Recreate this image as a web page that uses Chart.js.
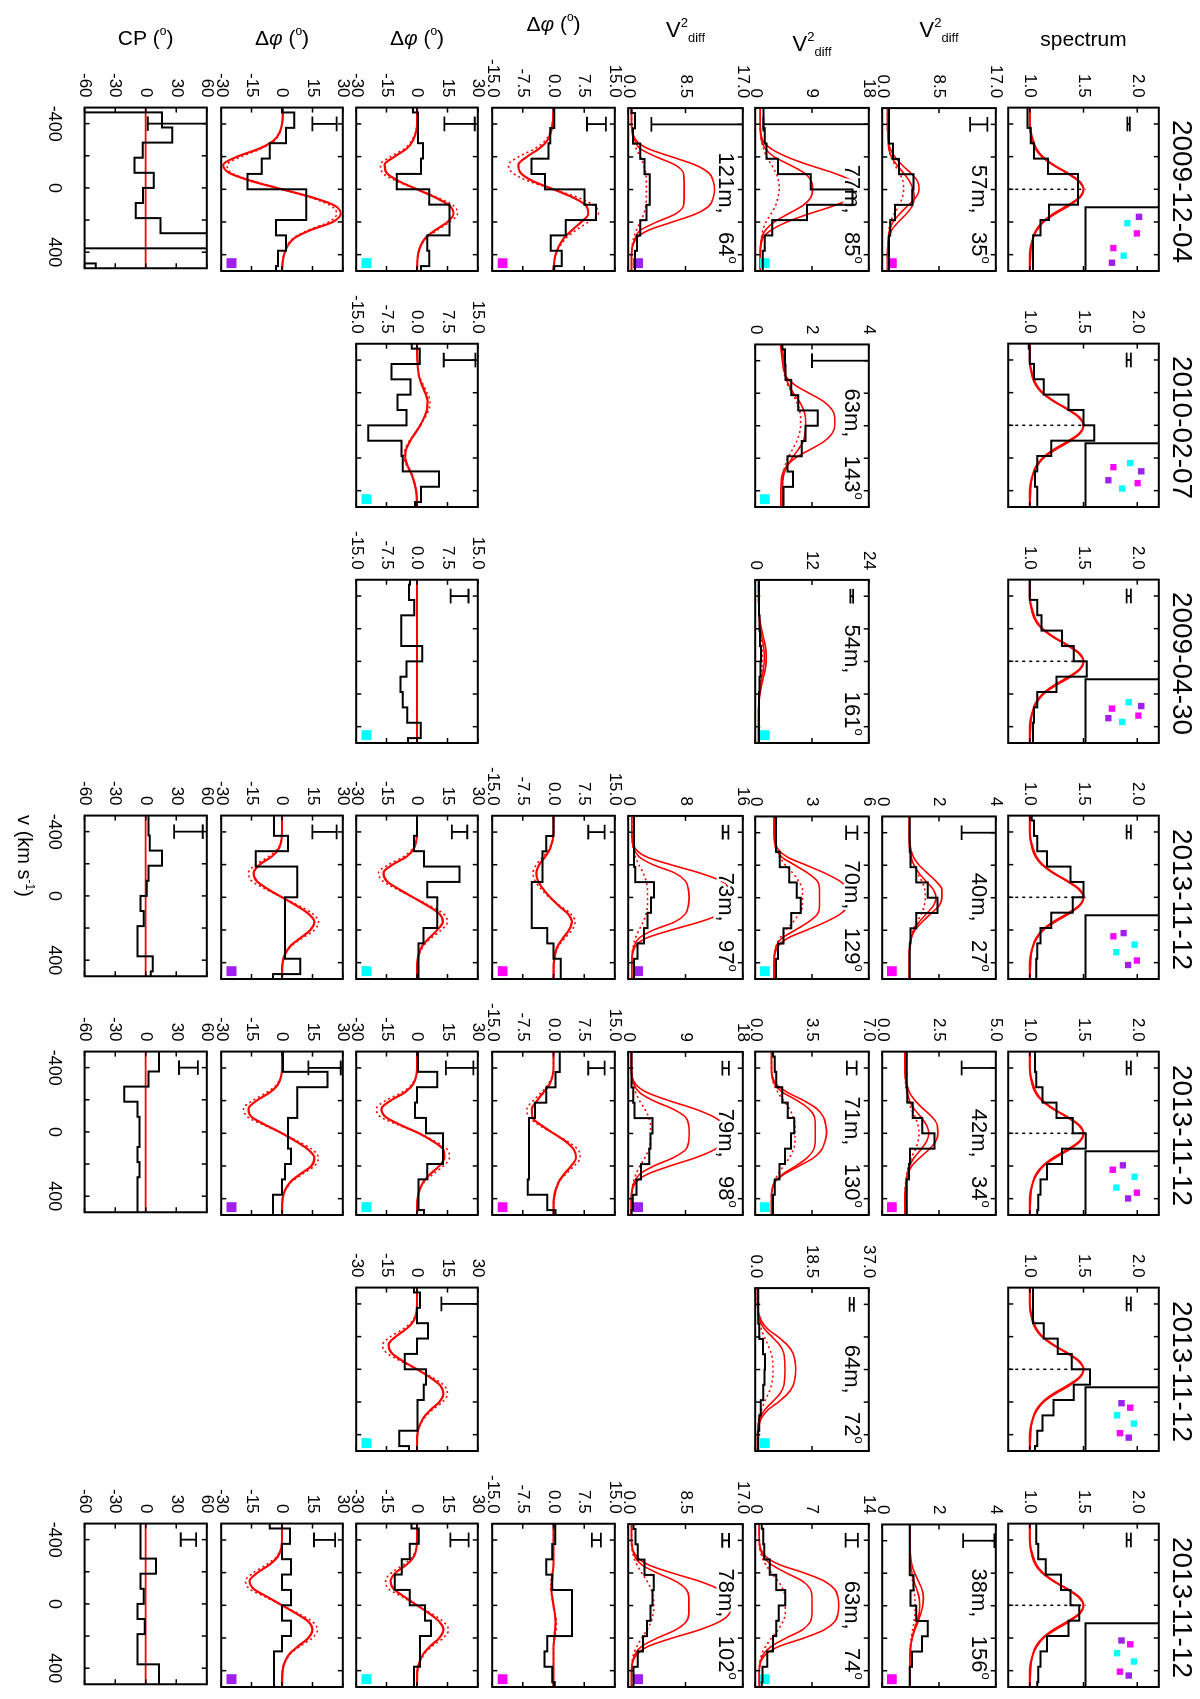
<!DOCTYPE html>
<html>
<head>
<meta charset="utf-8">
<script src="https://cdn.jsdelivr.net/npm/chart.js@4.4.1/dist/chart.umd.min.js"></script>
<style>
  html, body { margin: 0; padding: 0; background: #fff; }
  body { width: 1200px; height: 1699px; overflow: hidden; position: relative;
         font-family: 'Liberation Sans', Arial, Helvetica, sans-serif; }
  /* the figure is laid out lying down and turned a quarter turn clockwise */
  #fig { position: absolute; left: 0; top: 0; width: 1699px; height: 1200px;
         transform-origin: 0 0; transform: translateX(1200px) rotate(90deg); }
  #fig canvas { position: absolute; }
  .date { position: absolute; top: 4px; width: 163px; text-align: center;
          font-size: 28px; line-height: 28px; color: #000; white-space: nowrap; }
  .vtitle { position: absolute; top: 1165px; left: 756px; width: 200px; text-align: center;
            font-size: 20px; line-height: 20px; color: #000; }
  .vtitle sup { font-size: 12px; line-height: 0; vertical-align: 8px; }
</style>
</head>
<body>
<div id="fig"></div>
<script>
// ---- data ----
const dates = ['2009-12-04', '2010-02-07', '2009-04-30', '2013-11-12', '2013-11-12', '2013-11-12', '2013-11-12'];

// velocity channels (histogram centres) and model sampling velocities, km/s
const velBins = [-517, -423, -329, -235, -141, -47, 47, 141, 235, 329, 423, 517];
const velFit = [-500, -400, -300, -250, -200, -150, -100, -50, 0, 50, 100, 150, 200, 250, 300, 400, 500];
const velTicks = [-400, -200, 0, 200, 400];
const velTickLabels = ['-400', '', '0', '', '400'];
const specTicks = [1.0, 1.5, 2.0];
const cpTicks = [-60, -30, 0, 30, 60];

// spectrum row
const specHist = [
  [0.98, 0.98, 1.01, 1.04, 1.17, 1.45, 1.45, 1.18, 1.1, 1.03, 1.03, 1.03],
  [0.99, 1.0, 1.04, 1.13, 1.36, 1.5, 1.6, 1.2, 1.07, 1.05, 1.07, 1.07],
  [1.0, 1.0, 1.07, 1.11, 1.3, 1.41, 1.53, 1.25, 1.07, 1.04, 1.03, 1.03],
  [1.02, 1.04, 1.07, 1.16, 1.38, 1.5, 1.4, 1.2, 1.1, 1.07, 1.06, 1.06],
  [1.05, 1.05, 1.06, 1.12, 1.25, 1.4, 1.52, 1.3, 1.16, 1.1, 1.08, 1.07],
  [1.03, 1.03, 1.03, 1.13, 1.26, 1.39, 1.56, 1.41, 1.22, 1.12, 1.07, 1.05],
  [1.06, 1.06, 1.08, 1.15, 1.29, 1.38, 1.46, 1.36, 1.16, 1.1, 1.08, 1.07]
];
const specModel = [1.0, 1.0, 1.03, 1.06, 1.12, 1.22, 1.35, 1.46, 1.5, 1.46, 1.35, 1.22, 1.12, 1.06, 1.03, 1.0, 1.0];
const specModel2 = [1.0, 1.0, 1.02, 1.05, 1.11, 1.21, 1.34, 1.45, 1.5, 1.47, 1.37, 1.24, 1.13, 1.07, 1.03, 1.01, 1.0];
const specErr = [0.012, 0.02, 0.02, 0.02, 0.02, 0.02, 0.02];

// telescope layout inset: [x, y] in the inset box (0..1), colour code
const insetDots = [
  [[0.15, 0.73, 'p'], [0.41, 0.70, 'm'], [0.25, 0.57, 'c'], [0.76, 0.52, 'c'], [0.64, 0.38, 'm'], [0.87, 0.36, 'p']],
  [[0.375, 0.38, 'm'], [0.58, 0.31, 'p'], [0.31, 0.61, 'c'], [0.71, 0.50, 'c'], [0.44, 0.76, 'p'], [0.625, 0.71, 'm']],
  [[0.46, 0.36, 'm'], [0.61, 0.31, 'p'], [0.36, 0.59, 'c'], [0.67, 0.50, 'c'], [0.42, 0.76, 'p'], [0.57, 0.72, 'm']],
  [[0.33, 0.38, 'm'], [0.28, 0.52, 'p'], [0.58, 0.42, 'c'], [0.46, 0.67, 'c'], [0.78, 0.58, 'p'], [0.71, 0.70, 'm']],
  [[0.29, 0.37, 'm'], [0.22, 0.51, 'p'], [0.57, 0.42, 'c'], [0.40, 0.67, 'c'], [0.74, 0.58, 'p'], [0.65, 0.70, 'm']],
  [[0.25, 0.49, 'p'], [0.32, 0.61, 'm'], [0.44, 0.43, 'c'], [0.57, 0.66, 'c'], [0.72, 0.47, 'm'], [0.79, 0.59, 'p']],
  [[0.27, 0.49, 'p'], [0.33, 0.61, 'm'], [0.47, 0.43, 'c'], [0.60, 0.66, 'c'], [0.76, 0.47, 'm'], [0.82, 0.59, 'p']]
];

// differential visibility rows (three baselines per date, null = not observed)
const v2Max = [[17, 18, 17], [null, 4, null], [null, 24, null], [4, 6, 16], [5, 7, 18], [null, 37, null], [4, 14, 17]];
const v2Len = [[57, 77, 121], [null, 63, null], [null, 54, null], [40, 70, 73], [42, 71, 79], [null, 64, null], [38, 63, 78]];
const v2PA = [[35, 85, 64], [null, 143, null], [null, 161, null], [27, 129, 97], [34, 130, 98], [null, 72, null], [156, 74, 102]];
const v2Err = [[1.3, 14, 11], [null, 1.4, null], [null, 0.3, null], [0.6, 0.3, 0.4], [0.75, 0.3, 0.5], [null, 0.7, null], [0.55, 0.75, 0.5]];
const v2Hist = [
  [[1.0, 1.0, 1.0, 1.6, 2.5, 4.7, 4.5, 1.9, 1.2, 1.0, 1.0, 1.0],
   [1.3, 1.3, 1.5, 1.8, 3.6, 8.8, 15.4, 8.2, 2.7, 1.5, 1.2, 1.2],
   [0.5, 1.0, 0.7, 1.8, 2.4, 3.2, 3.2, 2.7, 1.8, 1.3, 1.0, 1.0]],
  [null, [0.95, 1.05, 1.07, 1.27, 1.52, 2.2, 1.77, 1.64, 1.14, 1.33, 1.0, 1.0], null],
  [null, [0.8, 0.8, 0.8, 0.9, 1.0, 1.2, 1.1, 0.9, 0.8, 0.8, 0.8, 0.8], null],
  [[0.97, 0.97, 0.97, 1.0, 1.2, 1.6, 1.95, 1.2, 1.0, 0.97, 0.97, 0.97],
   [1.1, 1.1, 1.1, 1.3, 1.8, 2.2, 2.4, 1.9, 1.5, 1.2, 1.1, 1.1],
   [0.8, 0.8, 0.8, 0.8, 1.0, 3.6, 3.2, 2.7, 2.2, 1.3, 0.8, 0.8]],
  [[1.08, 1.08, 1.08, 1.1, 1.35, 1.76, 2.3, 1.22, 1.18, 1.08, 1.08, 1.08],
   [1.1, 1.2, 1.3, 1.66, 2.0, 2.4, 2.2, 1.84, 1.5, 1.2, 1.1, 1.1],
   [0.5, 0.5, 0.5, 0.8, 1.0, 3.8, 3.5, 3.3, 2.0, 1.3, 0.7, 0.5]],
  [null, [1.0, 1.0, 1.0, 1.3, 2.5, 3.2, 3.0, 2.6, 1.8, 1.3, 1.0, 1.0], null],
  [[0.97, 0.97, 0.97, 0.97, 1.1, 1.0, 1.2, 1.6, 1.4, 1.05, 0.97, 0.97],
   [0.8, 1.0, 1.1, 1.8, 2.6, 3.7, 2.9, 2.6, 2.2, 1.5, 0.9, 0.8],
   [0.8, 1.1, 1.4, 2.4, 3.8, 3.6, 3.3, 2.8, 2.2, 1.4, 0.8, 0.8]]
];
const v2FitA = [
  [[0.8, 0.8, 0.9, 1.2, 1.9, 3.0, 4.3, 5.3, 5.5, 5.0, 3.8, 2.6, 1.6, 1.1, 0.9, 0.8, 0.8],
   [0.8, 0.8, 1.0, 1.6, 3.0, 5.5, 7.8, 8.9, 9.1, 8.8, 7.5, 5.2, 3.0, 1.6, 1.0, 0.8, 0.8],
   [0.5, 0.5, 1.0, 1.8, 4.2, 7.0, 8.2, 8.3, 8.3, 8.3, 8.2, 7.0, 4.2, 1.8, 1.0, 0.5, 0.5]],
  [null, [0.95, 1.0, 1.08, 1.18, 1.35, 1.55, 1.7, 1.77, 1.78, 1.75, 1.68, 1.5, 1.3, 1.12, 1.0, 0.95, 0.95], null],
  [null, [0.7, 0.7, 0.8, 0.9, 1.1, 1.4, 1.7, 1.9, 1.9, 1.7, 1.4, 1.1, 0.9, 0.8, 0.7, 0.7, 0.7], null],
  [[0.95, 0.95, 0.97, 1.02, 1.12, 1.3, 1.55, 1.8, 1.9, 1.8, 1.55, 1.3, 1.12, 1.02, 0.97, 0.95, 0.95],
   [1.0, 1.0, 1.1, 1.4, 2.1, 2.8, 3.3, 3.4, 3.4, 3.4, 3.3, 2.8, 2.1, 1.4, 1.1, 1.0, 1.0],
   [0.5, 0.5, 0.8, 1.5, 3.5, 6.5, 8.0, 8.4, 8.5, 8.4, 8.0, 6.5, 3.5, 1.5, 0.8, 0.5, 0.5]],
  [[1.0, 1.0, 1.05, 1.1, 1.2, 1.4, 1.7, 1.95, 2.05, 1.95, 1.7, 1.4, 1.2, 1.1, 1.05, 1.0, 1.0],
   [1.0, 1.0, 1.2, 1.7, 2.6, 3.3, 3.65, 3.7, 3.7, 3.7, 3.6, 3.2, 2.5, 1.7, 1.2, 1.0, 1.0],
   [0.5, 0.5, 0.9, 1.8, 4, 7, 9, 9.5, 9.6, 9.5, 9, 7, 4, 1.8, 0.9, 0.5, 0.5]],
  [null, [0.8, 0.8, 1.5, 3, 5.5, 8, 9.3, 9.6, 9.7, 9.6, 9.3, 8, 5.5, 3, 1.5, 0.8, 0.8], null],
  [[0.97, 0.97, 0.98, 1.0, 1.05, 1.12, 1.22, 1.3, 1.32, 1.3, 1.22, 1.12, 1.05, 1.0, 0.98, 0.97, 0.97],
   [0.5, 0.5, 1.0, 2, 3.8, 5.8, 6.8, 7, 7, 7, 6.8, 5.8, 3.8, 2, 1, 0.5, 0.5],
   [0.5, 0.5, 1, 2, 4.3, 7, 8.6, 9, 9, 9, 8.6, 7, 4.3, 2, 1, 0.5, 0.5]]
];
const v2FitB = [
  [[0.8, 0.8, 0.9, 1.0, 1.4, 2.2, 3.2, 4.1, 4.6, 4.8, 4.5, 3.6, 2.4, 1.4, 1.0, 0.8, 0.8],
   [0.8, 0.8, 1.2, 2.5, 5, 8.5, 12.5, 15.5, 16.5, 15.5, 12.5, 8.5, 5, 2.5, 1.2, 0.8, 0.8],
   [0.5, 0.5, 1.2, 3, 6.5, 10, 12, 12.6, 12.8, 12.6, 12, 10, 6.5, 3, 1.2, 0.5, 0.5]],
  [null, [0.9, 0.95, 1.1, 1.4, 1.9, 2.4, 2.7, 2.8, 2.8, 2.7, 2.4, 1.9, 1.4, 1.1, 0.95, 0.9, 0.9], null],
  [null, [0.7, 0.7, 0.8, 1.0, 1.3, 1.7, 2.1, 2.3, 2.3, 2.1, 1.7, 1.3, 1.0, 0.8, 0.7, 0.7, 0.7], null],
  [[0.95, 0.95, 1.0, 1.1, 1.3, 1.6, 1.9, 2.1, 2.1, 2.0, 1.7, 1.4, 1.15, 1.02, 0.97, 0.95, 0.95],
   [1.0, 1.0, 1.2, 1.7, 2.7, 3.7, 4.5, 4.9, 5.0, 4.9, 4.5, 3.7, 2.7, 1.7, 1.2, 1.0, 1.0],
   [0.5, 0.5, 1, 2.5, 6, 10, 13, 14.2, 14.5, 14.2, 13, 10, 6, 2.5, 1, 0.5, 0.5]],
  [[1.0, 1.0, 1.08, 1.2, 1.45, 1.8, 2.2, 2.42, 2.45, 2.35, 2.05, 1.65, 1.3, 1.12, 1.05, 1.0, 1.0],
   [1.0, 1.0, 1.3, 2.0, 3.0, 3.8, 4.2, 4.35, 4.4, 4.3, 4.1, 3.6, 2.7, 1.8, 1.2, 1.0, 1.0],
   [0.5, 0.5, 1.2, 3, 6.5, 10.5, 13.5, 15, 15.2, 15, 13.5, 10.5, 6.5, 3, 1.2, 0.5, 0.5]],
  [null, [0.8, 0.8, 2, 4, 7.5, 10.5, 12.3, 13, 13.2, 13, 12.3, 10.5, 7.5, 4, 2, 0.8, 0.8], null],
  [[0.97, 0.97, 1.0, 1.05, 1.15, 1.28, 1.4, 1.45, 1.43, 1.36, 1.26, 1.15, 1.06, 1.0, 0.98, 0.97, 0.97],
   [0.5, 0.5, 1.3, 3, 6, 8.5, 9.8, 10.2, 10.3, 10.2, 9.8, 8.5, 6, 3, 1.3, 0.5, 0.5],
   [0.5, 0.5, 1.3, 3, 6.5, 10.5, 13.5, 15, 15.2, 15, 13.5, 10.5, 6.5, 3, 1.3, 0.5, 0.5]]
];
const v2FitDot = [
  [[0.8, 0.8, 0.9, 1.0, 1.3, 1.9, 2.6, 3.1, 3.2, 3.0, 2.5, 1.8, 1.2, 1.0, 0.9, 0.8, 0.8],
   [0.8, 0.8, 1, 1.3, 1.8, 2.6, 3.3, 3.7, 3.8, 3.6, 3.2, 2.5, 1.7, 1.2, 1, 0.8, 0.8],
   [0.5, 0.5, 0.8, 1.2, 1.8, 2.3, 2.6, 2.7, 2.7, 2.7, 2.6, 2.3, 1.8, 1.2, 0.8, 0.5, 0.5]],
  [null, [0.95, 1.0, 1.05, 1.15, 1.3, 1.45, 1.55, 1.6, 1.6, 1.55, 1.45, 1.3, 1.15, 1.05, 1.0, 0.95, 0.95], null],
  [null, [0.7, 0.7, 0.8, 0.9, 1.0, 1.2, 1.4, 1.5, 1.5, 1.4, 1.2, 1.0, 0.9, 0.8, 0.7, 0.7, 0.7], null],
  [[0.95, 0.95, 0.97, 1.0, 1.1, 1.25, 1.4, 1.5, 1.52, 1.48, 1.38, 1.22, 1.08, 1.0, 0.97, 0.95, 0.95],
   [1.0, 1.0, 1.1, 1.3, 1.6, 2.0, 2.3, 2.5, 2.5, 2.5, 2.3, 2.0, 1.6, 1.3, 1.1, 1.0, 1.0],
   [0.5, 0.5, 0.7, 1.0, 1.5, 2.1, 2.5, 2.7, 2.7, 2.7, 2.5, 2.1, 1.5, 1.0, 0.7, 0.5, 0.5]],
  [[1.0, 1.0, 1.03, 1.08, 1.15, 1.28, 1.45, 1.58, 1.62, 1.58, 1.45, 1.28, 1.15, 1.08, 1.03, 1.0, 1.0],
   [1.0, 1.0, 1.15, 1.4, 1.75, 2.1, 2.35, 2.45, 2.45, 2.45, 2.35, 2.1, 1.75, 1.4, 1.15, 1.0, 1.0],
   [0.5, 0.5, 0.8, 1.2, 1.8, 2.6, 3.2, 3.5, 3.5, 3.5, 3.2, 2.6, 1.8, 1.2, 0.8, 0.5, 0.5]],
  [null, [0.8, 0.8, 1.2, 2, 3, 4.2, 5.2, 5.7, 5.8, 5.7, 5.2, 4.2, 3, 2, 1.2, 0.8, 0.8], null],
  [[0.97, 0.97, 0.98, 0.99, 1.02, 1.07, 1.12, 1.15, 1.16, 1.15, 1.12, 1.07, 1.02, 0.99, 0.98, 0.97, 0.97],
   [0.5, 0.5, 0.8, 1.3, 2, 2.8, 3.4, 3.7, 3.7, 3.7, 3.4, 2.8, 2, 1.3, 0.8, 0.5, 0.5],
   [0.5, 0.5, 0.8, 1.3, 2, 2.8, 3.4, 3.7, 3.8, 3.7, 3.4, 2.8, 2, 1.3, 0.8, 0.5, 0.5]]
];

// differential phase rows
const dpMax = [[15, 30, 30], [null, 15, null], [null, 15, null], [15, 30, 30], [15, 30, 30], [null, 30, null], [15, 30, 30]];
const dpErr = [[2.3, 7.5, 6], [null, 3.9, null], [null, 2.2, null], [2.0, 3.8, 6], [2.0, 6.8, 8], [null, 9, null], [1.1, 4.5, 5.2]];
const dpHist = [
  [[0.2, 0.2, -0.8, -1.2, -5.4, -2.1, 7.6, 10.4, 3.0, -0.7, 2.0, 0.2],
   [-2, 0.5, 0.5, 3, 2, -10, 6, 16, 16, 5, 6, 2],
   [0, 6, 2, -6, -10, -17, 12, 12, -3, 2, -2, -3]],
  [null, [-1.3, 0.7, -6.3, -1.6, -4.8, -2.6, -12, -3.8, -3.5, 5.4, 1.0, -0.5], null],
  [null, [-1.7, -2.0, -0.7, -3.9, -3.9, 1.3, -2.6, -4.1, -3.5, -2.4, 0.9, -2.2], null],
  [[0, 0, -1.8, -2.7, -2.7, -5.3, -5.3, -5.3, -1.5, 0, 1.8, 1.8],
   [0, 0, -1.5, 3.5, 21, 5, 10, 10, 3.2, 0.8, 0.8, 0.8],
   [-4, -4, 3, -13, 7.5, 7.5, 1.5, 1.5, 1.5, 1.5, 9, -4.5]],
  [[1.5, 1.5, 0.5, -1.8, -4.5, -6, -6, -6, -6, -6.3, -1.5, 0.5],
   [0.5, 0.5, 10, 0, -1, 4.4, 12.8, 12.8, 5, 0.8, 0.8, 3.5],
   [0.5, 0.5, 22.5, 7.5, 7.5, 3, 3, 4.5, 1.5, 0, -4.5, -4.5]],
  [null, [-1.5, 1.5, 0, 5.4, 0, -6, 4.5, 3.3, 0.3, 0.3, -8.7, -4], null],
  [[0.4, 0.4, -0.3, -1.8, -0.3, 4.5, 4.5, 4.5, -1.5, -2.2, -0.3, 0.3],
   [-2.7, 0.9, -3.6, -7.5, -11, -3.6, 3.9, 6.9, 1.5, 1.5, -1.5, -1.5],
   [-6, 3.9, 0, 4.5, 0, 4.5, 0, 4.5, 0, -3.9, -3.9, -3.9]]
];
const dpFit = [
  [[0, -0.2, -1.5, -3.5, -6.5, -8.6, -8, -5, 0, 4.8, 8, 8.5, 6.8, 4.5, 2.5, 0.5, 0],
   [0, 0, -2, -5, -11, -16, -15, -9, 0, 9, 16, 18, 15, 9, 4, 0.5, 0],
   [0.5, 0, -4, -11, -22, -29, -26, -15, 0, 15, 26, 29, 25, 14, 6, 1, 0]],
  [null, [0, 0.1, 0.5, 1.2, 2.0, 2.6, 2.5, 1.8, 0.8, -0.5, -1.8, -2.7, -2.9, -2.3, -1.3, -0.2, 0], null],
  [null, [0, 0, 0, 0, 0, 0, 0, 0, 0, 0, 0, 0, 0, 0, 0, 0, 0], null],
  [[0, 0, -0.8, -2, -3.5, -4.2, -3.8, -2.5, -0.8, 1.2, 3.5, 4.5, 3.8, 2.3, 1.0, 0.1, 0],
   [0, 0, -1.5, -5, -12, -16.5, -15, -9, -2, 5, 11, 12.8, 10, 6, 2.5, 0.2, 0],
   [0, 0, -1.5, -5, -11, -14, -12.5, -7, 0, 7, 13, 16, 14, 9, 4, 0.3, 0]],
  [[0, 0, -1, -2.5, -4, -5.3, -5.2, -3, 0, 3, 5, 5.5, 4.3, 2.6, 1.2, 0.1, 0],
   [0, 0, -2, -6, -13, -17.5, -15.5, -8, 1, 8, 13, 13.5, 11, 6.5, 3, 0.3, 0],
   [0, 0, -2, -6, -12.5, -16.5, -15, -8, 0, 7, 13, 16, 14.5, 9, 4, 0.3, 0]],
  [null, [0, 0, -1.5, -5, -10.5, -14, -12.5, -7, 0, 6.5, 11.5, 13, 11, 6.5, 3, 0.2, 0], null],
  [[0, 0, 0, 0, -0.2, -0.4, -0.5, -0.3, 0, 0.3, 0.5, 0.4, 0.2, 0, 0, 0, 0],
   [0, 0, -1.5, -5, -10.5, -13, -11.5, -6, 0, 6, 11, 13, 11, 6.5, 3, 0.2, 0],
   [0, 0, -2, -6, -12, -16, -14, -7, 0, 7, 13, 15, 13, 8, 3.5, 0.3, 0]]
];
const dpDot = [
  [[0, -0.3, -2, -4.5, -8.5, -11, -10, -6, 0, 6, 10, 11, 8.5, 5.5, 3, 0.6, 0],
   [0, 0, -2.5, -6, -13, -18, -17, -10, 0, 10, 18, 20, 16, 10, 4.5, 0.5, 0],
   [0.5, 0, -3.5, -10, -20, -27, -25, -14, 0, 14, 24, 27, 23, 13, 5.5, 1, 0]],
  [null, [0, 0.1, 0.6, 1.5, 2.5, 3.2, 3.0, 2.0, 0.8, -0.6, -2.0, -3.0, -3.2, -2.5, -1.4, -0.2, 0], null],
  [null, [0, 0, 0, 0, 0, 0, 0, 0, 0, 0, 0, 0, 0, 0, 0, 0, 0], null],
  [[0, 0, -1, -2.5, -4.2, -5, -4.5, -3, -1, 1.5, 4.2, 5.3, 4.5, 2.8, 1.2, 0.1, 0],
   [0, 0, -2, -6.5, -14, -19, -17, -10, -2, 6, 13, 15, 12, 7, 3, 0.2, 0],
   [0, 0, -2, -6.5, -13, -16.5, -15, -8, 0, 8, 15, 18, 16, 10, 4.5, 0.3, 0]],
  [[0, 0, -1.3, -3, -5, -6.5, -6, -3.5, 0, 3.5, 6, 6.5, 5, 3, 1.3, 0.1, 0],
   [0, 0, -2.5, -7.5, -15.5, -20, -18, -9, 1, 9, 15, 16, 13, 8, 3.5, 0.3, 0],
   [0, 0, -2.5, -7.5, -14.5, -19, -17, -9, 0, 8, 15, 18, 16, 10, 4.5, 0.3, 0]],
  [null, [0, 0, -2, -6.5, -13, -17, -15, -8, 0, 7.5, 13.5, 15, 12.5, 7.5, 3.5, 0.2, 0], null],
  [[0, 0, 0, 0, -0.3, -0.6, -0.7, -0.4, 0, 0.4, 0.7, 0.6, 0.3, 0, 0, 0, 0],
   [0, 0, -2, -6.5, -12.5, -15.5, -14, -7, 0, 7, 13, 15.5, 13, 7.5, 3.5, 0.2, 0],
   [0, 0, -2.5, -7.5, -14, -18, -16, -8, 0, 8, 15, 17.5, 15, 9, 4, 0.3, 0]]
];

// closure phase row
const cpHist = [
  [-90, 16, 26, -3, -11, 8, -2.6, -9.7, 14.6, 90, -90, -49],
  null, null,
  [2.7, 2.7, 4, 16, 2.7, 1, -5, -2, -8, -8, 7, 5],
  [13, 13, 2.7, -21, -8, -6, -6, -8, -6, -8, -8, -8],
  null,
  [-5, -5, -5, 10, -5, -2, -8, -1, -8, -8, 13, 13]
];
const cpErr = [40, null, null, 14, 9.3, null, 7.6];
const cpModelVel = [-500, 500];
const cpModel = [0, 0];

// ---- layout (figure drawn lying down, then turned) ----
const FONT = "'Liberation Sans', Arial, Helvetica, sans-serif";
const colX = [108, 344, 580, 816, 1052, 1288, 1524];
const rowY = [41, 204, 331, 457, 585, 722, 857, 993];
const rowH = [151, 114, 114, 115, 123, 122, 122, 122];
const PW = 163;
const RED = '#ff0000';
const COLORS = { m: '#ff00ff', c: '#00ffff', p: '#a020f0' };
const rowSquare = [null, 'm', 'c', 'p', 'm', 'c', 'p', null];

Chart.defaults.font.family = FONT;

function xy(xs, ys) { return ys.map((y, i) => ({ x: xs[i], y: y })); }
function fmtTick(v, step) { return Number.isInteger(step) ? String(Math.round(v)) : v.toFixed(1); }

function histDs(vals) {
  return { data: xy(velBins, vals), borderColor: '#000', borderWidth: 2, stepped: 'middle', pointRadius: 0 };
}
function fitDs(vals, dotted, w) {
  return { data: xy(velFit, vals), borderColor: RED, borderWidth: w || 1.6, borderDash: dotted ? [2, 3] : [],
           pointRadius: 0, cubicInterpolationMode: 'monotone' };
}
function errDs(yc, e) {
  const lo = yc - e, hi = yc + e;
  return { data: [{ x: -445, y: lo }, { x: -355, y: lo }, { x: -400, y: null }, { x: -400, y: lo }, { x: -400, y: hi },
                  { x: -400, y: null }, { x: -445, y: hi }, { x: -355, y: hi }],
           borderColor: '#000', borderWidth: 1.8, pointRadius: 0, spanGaps: false };
}
function squareDs(code, ymin, ymax) {
  return { data: [{ x: 452, y: ymin + 0.085 * (ymax - ymin) }], showLine: false, pointStyle: 'rect',
           pointRadius: 7, pointBackgroundColor: COLORS[code], pointBorderWidth: 0 };
}

// rich text pieces: [text, size, baseline shift, style]
const TITLE_PARTS = {
  spectrum: [['spectrum', 21, 0]],
  v2: [['V', 22, 0], ['2', 13, -10], ['diff', 13, 5]],
  dphi: [['\u0394', 21, 0], ['\u03c6', 21, 0, 'italic'], [' (', 21, 0], ['o', 12, -10], [')', 21, 0]],
  cp: [['CP (', 21, 0], ['o', 12, -10], [')', 21, 0]]
};
function setFont(ctx, p) { ctx.font = (p[3] ? p[3] + ' ' : '') + p[1] + 'px ' + FONT; }
function richWidth(ctx, parts) {
  let w = 0;
  for (const p of parts) { setFont(ctx, p); w += ctx.measureText(p[0]).width; }
  return w;
}
function drawRich(ctx, x, y, parts, halo) {
  for (const p of parts) {
    setFont(ctx, p);
    if (halo) ctx.strokeText(p[0], x, y + p[2]); else ctx.fillText(p[0], x, y + p[2]);
    x += ctx.measureText(p[0]).width;
  }
}

const panelDeco = {
  id: 'panelDeco',
  beforeDatasetDraw(chart, args, opts) {
    // baseline label goes over the models but under the data histogram
    if (args.index !== 0 || !opts.label) return;
    const { ctx, chartArea: a } = chart;
    const parts = [[opts.label, 22, 0], ['o', 13, -10]];
    ctx.save();
    ctx.textBaseline = 'alphabetic';
    const w = richWidth(ctx, parts);
    const x0 = a.left + a.width * 0.955 - w, y0 = a.top + 24;
    ctx.strokeStyle = '#fff'; ctx.lineWidth = 5; ctx.lineJoin = 'round';
    drawRich(ctx, x0, y0, parts, true);
    ctx.fillStyle = '#000';
    drawRich(ctx, x0, y0, parts, false);
    ctx.restore();
  },
  afterDatasetsDraw(chart, args, opts) {
    const { ctx, chartArea: a, scales } = chart;
    ctx.save();
    ctx.strokeStyle = '#000';
    ctx.lineWidth = 1.5;
    ctx.beginPath();
    for (const t of scales.x.ticks) {
      const px = scales.x.getPixelForValue(t.value);
      ctx.moveTo(px, a.bottom); ctx.lineTo(px, a.bottom - 5);
      ctx.moveTo(px, a.top); ctx.lineTo(px, a.top + 5);
    }
    for (const t of scales.y.ticks) {
      const py = scales.y.getPixelForValue(t.value);
      ctx.moveTo(a.left, py); ctx.lineTo(a.left + 5, py);
      ctx.moveTo(a.right, py); ctx.lineTo(a.right - 5, py);
    }
    ctx.stroke();
    ctx.lineWidth = 2;
    ctx.strokeRect(a.left, a.top, a.right - a.left, a.bottom - a.top);
    if (opts.title) {
      ctx.font = '17px ' + FONT;
      let tw = 0;
      for (const t of scales.y.ticks) tw = Math.max(tw, ctx.measureText(t.label).width);
      const parts = TITLE_PARTS[opts.title];
      const cx = a.left - 10 - tw - 35, cy = (a.top + a.bottom) / 2;
      ctx.translate(cx, cy);
      ctx.rotate(-Math.PI / 2);
      ctx.fillStyle = '#000';
      ctx.textBaseline = 'alphabetic';
      drawRich(ctx, -richWidth(ctx, parts) / 2, 7, parts, false);
    }
    ctx.restore();
  }
};
Chart.register(panelDeco);

function config(col, row, s) {
  const bottom = row === 7;
  const scales = {
    x: { type: 'linear', min: -500, max: 500,
         afterBuildTicks: sc => { sc.ticks = velTicks.map(v => ({ value: v })); },
         grid: { display: false, drawTicks: false }, border: { display: false },
         ticks: { display: bottom, autoSkip: false, maxRotation: 0, padding: 20, color: '#000',
                  font: { family: FONT, size: 18 }, callback: (v, i) => velTickLabels[i] } },
    y: { type: 'linear', min: s.ymin, max: s.ymax,
         afterBuildTicks: sc => { sc.ticks = s.yticks.map(v => ({ value: v })); },
         grid: { display: false, drawTicks: false }, border: { display: false },
         ticks: { autoSkip: false, padding: 10, color: '#000', font: { family: FONT, size: 17 },
                  callback: v => fmtTick(v, s.step) } }
  };
  Object.assign(scales, s.extraScales || {});
  return {
    type: 'line',
    data: { datasets: s.datasets },
    options: {
      responsive: false, animation: false, events: [],
      layout: { padding: { top: 12, right: 8, left: col === 0 ? 62 : 0, bottom: 4 } },
      plugins: { legend: { display: false }, tooltip: { enabled: false },
                 panelDeco: { label: s.label || '', title: col === 0 ? s.title : '' } },
      scales: scales
    }
  };
}

const fig = document.getElementById('fig');
function makePanel(col, row, specFn) {
  const cv = document.createElement('canvas');
  fig.appendChild(cv);
  const w = (col === 0 ? 130 : 70) + PW + 12, h = 20 + rowH[row] + (row === 7 ? 60 : 12);
  cv.width = w; cv.height = h;
  let chart = new Chart(cv, config(col, row, specFn()));
  let a = chart.chartArea;
  const dw = Math.round(PW - (a.right - a.left)), dh = Math.round(rowH[row] - (a.bottom - a.top));
  if (dw !== 0 || dh !== 0) {
    chart.destroy();
    cv.width = w + dw; cv.height = h + dh;
    chart = new Chart(cv, config(col, row, specFn()));
    a = chart.chartArea;
  }
  cv.style.left = (colX[col] - a.left) + 'px';
  cv.style.top = (rowY[row] - a.top) + 'px';
}

function specPanel(d) {
  const ymin = 0.8, ymax = 2.2;
  return {
    ymin, ymax, yticks: specTicks, step: 0.5, title: 'spectrum',
    extraScales: {
      ix: { axis: 'x', type: 'linear', display: false, min: -1.564, max: 1 },
      iy: { axis: 'y', type: 'linear', display: false, min: -1.058, max: 1 }
    },
    datasets: [
      histDs(specHist[d]),
      errDs(1.92, specErr[d]),
      fitDs(specModel, false, 2),
      fitDs(specModel2, false, 1.4),
      { data: [{ x: 0, y: ymin }, { x: 0, y: 1.52 }], borderColor: '#000', borderWidth: 1.5, borderDash: [3, 4], pointRadius: 0 },
      { data: [{ x: 0, y: 1.5 }, { x: 0, y: 0 }, { x: 1.5, y: 0 }], xAxisID: 'ix', yAxisID: 'iy',
        borderColor: '#000', borderWidth: 2, pointRadius: 0 },
      { data: insetDots[d].map(p => ({ x: p[0], y: p[1] })), xAxisID: 'ix', yAxisID: 'iy', showLine: false,
        pointStyle: 'rect', pointRadius: 4.5, pointBorderWidth: 0,
        pointBackgroundColor: insetDots[d].map(p => COLORS[p[2]]) }
    ]
  };
}
function v2Panel(d, k) {
  const ymax = v2Max[d][k];
  return {
    ymin: 0, ymax, yticks: [0, ymax / 2, ymax], step: ymax / 2, title: 'v2',
    label: v2Len[d][k] + 'm,   ' + v2PA[d][k],
    datasets: [
      histDs(v2Hist[d][k]),
      errDs(0.85 * ymax, v2Err[d][k]),
      squareDs(rowSquare[1 + k], 0, ymax),
      fitDs(v2FitA[d][k], false, 1.6),
      fitDs(v2FitB[d][k], false, 1.6),
      fitDs(v2FitDot[d][k], true, 1.6)
    ]
  };
}
function dpPanel(d, k) {
  const m = dpMax[d][k];
  return {
    ymin: -m, ymax: m, yticks: [-m, -m / 2, 0, m / 2, m], step: m / 2, title: 'dphi',
    datasets: [
      histDs(dpHist[d][k]),
      errDs(-m + 0.85 * 2 * m, dpErr[d][k]),
      squareDs(rowSquare[4 + k], -m, m),
      fitDs(dpFit[d][k], false, 2.2),
      fitDs(dpDot[d][k], true, 1.6)
    ]
  };
}
function cpPanel(d) {
  return {
    ymin: -60, ymax: 60, yticks: cpTicks, step: 30, title: 'cp',
    datasets: [
      histDs(cpHist[d]),
      errDs(-60 + 0.85 * 120, cpErr[d]),
      { data: xy(cpModelVel, cpModel), borderColor: RED, borderWidth: 1.8, pointRadius: 0 }
    ]
  };
}

for (let d = 0; d < dates.length; d++) {
  makePanel(d, 0, () => specPanel(d));
  for (let k = 0; k < 3; k++) if (v2Max[d][k] !== null) makePanel(d, 1 + k, () => v2Panel(d, k));
  for (let k = 0; k < 3; k++) if (dpMax[d][k] !== null) makePanel(d, 4 + k, () => dpPanel(d, k));
  if (cpHist[d]) makePanel(d, 7, () => cpPanel(d));
  const lab = document.createElement('div');
  lab.className = 'date';
  lab.style.left = (colX[d] + 2) + 'px';
  lab.textContent = dates[d];
  fig.appendChild(lab);
}
const vt = document.createElement('div');
vt.className = 'vtitle';
vt.innerHTML = 'v (km s<sup>-1</sup>)';
fig.appendChild(vt);
</script>
</body>
</html>
